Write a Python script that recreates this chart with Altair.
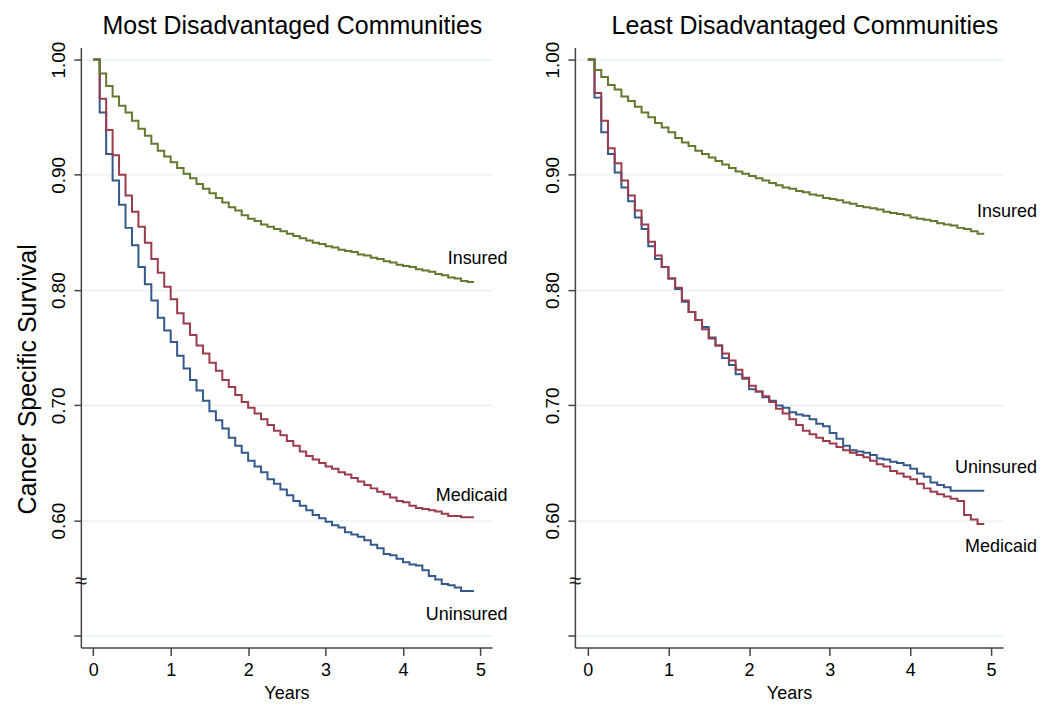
import altair as alt
import pandas as pd

# Monthly follow-up index (0..59 months); survival values hold for each month step
month = list(range(60))

# Most Disadvantaged Communities (k = 0..58)
most_insured = [1.000, 0.988, 0.977, 0.968, 0.960, 0.954, 0.947, 0.940, 0.934, 0.927, 0.921, 0.916,
                0.911, 0.906, 0.901, 0.897, 0.892, 0.888, 0.884, 0.880, 0.876, 0.872, 0.869, 0.865,
                0.862, 0.860, 0.857, 0.855, 0.853, 0.851, 0.849, 0.847, 0.845, 0.843, 0.841, 0.840,
                0.838, 0.837, 0.835, 0.834, 0.833, 0.831, 0.830, 0.828, 0.827, 0.825, 0.824, 0.822,
                0.821, 0.820, 0.818, 0.817, 0.816, 0.814, 0.813, 0.811, 0.810, 0.808, 0.807]
most_medicaid = [1.000, 0.966, 0.939, 0.917, 0.900, 0.882, 0.868, 0.855, 0.841, 0.827, 0.815, 0.803,
                 0.792, 0.780, 0.771, 0.761, 0.752, 0.745, 0.737, 0.730, 0.722, 0.716, 0.709, 0.703,
                 0.698, 0.693, 0.688, 0.683, 0.678, 0.674, 0.669, 0.665, 0.660, 0.656, 0.653, 0.650,
                 0.647, 0.645, 0.642, 0.640, 0.637, 0.634, 0.631, 0.628, 0.625, 0.623, 0.620, 0.617,
                 0.616, 0.613, 0.611, 0.610, 0.609, 0.608, 0.606, 0.604, 0.604, 0.603, 0.603]
most_uninsured = [1.000, 0.954, 0.918, 0.895, 0.874, 0.854, 0.839, 0.820, 0.805, 0.791, 0.776, 0.765,
                  0.755, 0.743, 0.732, 0.722, 0.713, 0.704, 0.695, 0.687, 0.680, 0.672, 0.665, 0.659,
                  0.652, 0.647, 0.642, 0.636, 0.632, 0.627, 0.622, 0.617, 0.613, 0.609, 0.605, 0.602,
                  0.599, 0.596, 0.594, 0.590, 0.588, 0.586, 0.583, 0.579, 0.576, 0.571, 0.570, 0.567,
                  0.564, 0.562, 0.561, 0.557, 0.552, 0.549, 0.545, 0.544, 0.542, 0.539, 0.539]

# Least Disadvantaged Communities (k = 0..58)
least_insured = [1.000, 0.991, 0.985, 0.978, 0.974, 0.968, 0.964, 0.959, 0.954, 0.950, 0.945, 0.941,
                 0.937, 0.932, 0.928, 0.925, 0.921, 0.918, 0.915, 0.912, 0.909, 0.906, 0.903, 0.901,
                 0.899, 0.897, 0.895, 0.893, 0.891, 0.889, 0.888, 0.886, 0.885, 0.883, 0.882, 0.880,
                 0.879, 0.878, 0.876, 0.875, 0.873, 0.872, 0.871, 0.870, 0.868, 0.867, 0.866, 0.865,
                 0.863, 0.862, 0.861, 0.860, 0.858, 0.857, 0.856, 0.854, 0.853, 0.851, 0.849]
least_medicaid = [1.000, 0.971, 0.947, 0.923, 0.910, 0.895, 0.882, 0.869, 0.857, 0.842, 0.830, 0.820,
                  0.810, 0.802, 0.791, 0.781, 0.774, 0.766, 0.758, 0.752, 0.745, 0.739, 0.731, 0.724,
                  0.717, 0.712, 0.708, 0.703, 0.697, 0.693, 0.688, 0.683, 0.678, 0.675, 0.672, 0.669,
                  0.667, 0.664, 0.661, 0.659, 0.657, 0.655, 0.652, 0.649, 0.647, 0.643, 0.641, 0.638,
                  0.636, 0.632, 0.628, 0.625, 0.623, 0.621, 0.619, 0.617, 0.605, 0.601, 0.597]
least_uninsured = [1.000, 0.967, 0.937, 0.918, 0.902, 0.889, 0.877, 0.863, 0.853, 0.838, 0.827, 0.820,
                   0.810, 0.801, 0.790, 0.781, 0.774, 0.768, 0.759, 0.752, 0.741, 0.735, 0.727, 0.723,
                   0.714, 0.712, 0.707, 0.704, 0.700, 0.698, 0.694, 0.692, 0.691, 0.688, 0.684, 0.682,
                   0.676, 0.671, 0.665, 0.661, 0.660, 0.659, 0.657, 0.654, 0.653, 0.651, 0.650, 0.648,
                   0.645, 0.641, 0.638, 0.633, 0.631, 0.629, 0.626, 0.626, 0.626, 0.626, 0.626]

# Curve end labels (placed just right of the curves)
most_label_text = ["Insured", "Medicaid", "Uninsured"]
most_label_x = [5.35, 5.35, 5.35]
most_label_y = [0.827, 0.621, 0.518]
least_label_text = ["Insured", "Uninsured", "Medicaid"]
least_label_x = [5.57, 5.57, 5.57]
least_label_y = [0.868, 0.646, 0.577]

y_ticks = [0.5, 0.6, 0.7, 0.8, 0.9, 1.0]
x_ticks = [0, 1, 2, 3, 4, 5]
x_domain = [-0.16, 5.15]
y_domain = [0.49, 1.0104]
break_y = 0.548

series_order = ["Uninsured", "Medicaid", "Insured"]
colors = ["#35598a", "#9a3c4c", "#62792f"]
FONT = "Liberation Sans"


def curves_df(data):
    rows = []
    for name, vals in data.items():
        ext = vals + [vals[-1]]
        for m, v in zip(month, ext):
            rows.append({"series": name, "t": m / 12.0, "s": v})
    return pd.DataFrame(rows)


def panel(title, data, lab_text, lab_x, lab_y, first, width, title_dx):
    df = curves_df(data)
    xs = alt.Scale(domain=x_domain, nice=False, zero=False)
    ys = alt.Scale(domain=y_domain, nice=False, zero=False)
    x_axis = alt.Axis(values=x_ticks, format="d", title="Years", grid=False,
                      tickSize=8, tickColor="#444", tickWidth=1.5,
                      domainColor="#444", domainWidth=1.5,
                      labelFontSize=18, labelFont=FONT, labelColor="black", labelPadding=6,
                      titleFontSize=18, titleFont=FONT, titleFontWeight="normal",
                      titleColor="black", titlePadding=5)
    y_kw = dict(values=y_ticks,
                labelExpr="datum.value < 0.55 ? '' : format(datum.value, '.2f')",
                grid=True, gridColor="#e7eff1", gridWidth=1.2,
                tickSize=7, tickColor="#444", tickWidth=1.5,
                domainColor="#444", domainWidth=1.5,
                labelAngle=270, labelAlign="center", labelBaseline="alphabetic",
                labelFontSize=19, labelFont=FONT, labelColor="black", labelPadding=9)
    if first:
        y_axis = alt.Axis(title="Cancer Specific Survival", titleFontSize=25, titleFont=FONT,
                          titleFontWeight="normal", titleColor="black", titlePadding=9,
                          titleY=332, **y_kw)
    else:
        y_axis = alt.Axis(title=None, **y_kw)

    layers = []
    for name, col in zip(series_order, colors):
        layers.append(
            alt.Chart(df[df.series == name]).mark_line(
                interpolate="step-after", strokeWidth=2, color=col, clip=False
            ).encode(
                x=alt.X("t:Q", scale=xs, axis=x_axis),
                y=alt.Y("s:Q", scale=ys, axis=y_axis),
            )
        )
    lab_df = pd.DataFrame({"text": lab_text, "x": lab_x, "y": lab_y})
    labels = alt.Chart(lab_df).mark_text(
        align="right", baseline="middle", fontSize=18, font=FONT, color="black"
    ).encode(x=alt.X("x:Q", scale=xs), y=alt.Y("y:Q", scale=ys), text="text:N")
    brk_df = pd.DataFrame({"x": [x_domain[0]], "y": [break_y], "text": ["≈"]})
    brk = alt.Chart(brk_df).mark_text(
        align="center", baseline="middle", fontSize=22, font=FONT, color="#222"
    ).encode(x=alt.X("x:Q", scale=xs), y=alt.Y("y:Q", scale=ys), text="text:N")

    return alt.layer(*layers, labels, brk).properties(
        width=width, height=601,
        title=alt.TitleParams(title, fontSize=25, font=FONT, fontWeight="normal",
                              color="black", anchor="middle", frame="group",
                              offset=2, dx=title_dx),
    )


left = panel("Most Disadvantaged Communities",
             {"Uninsured": most_uninsured, "Medicaid": most_medicaid, "Insured": most_insured},
             most_label_text, most_label_x, most_label_y, True, 412, 6)
right = panel("Least Disadvantaged Communities",
              {"Uninsured": least_uninsured, "Medicaid": least_medicaid, "Insured": least_insured},
              least_label_text, least_label_x, least_label_y, False, 429, 16)

chart = alt.hconcat(left, right, spacing=83, bounds="flush").properties(
    padding={"left": 7, "top": 5, "right": 5, "bottom": 5},
    background="white",
).configure_view(stroke=None)

chart.save("out.html", embed_options={"renderer": "svg", "actions": False})
